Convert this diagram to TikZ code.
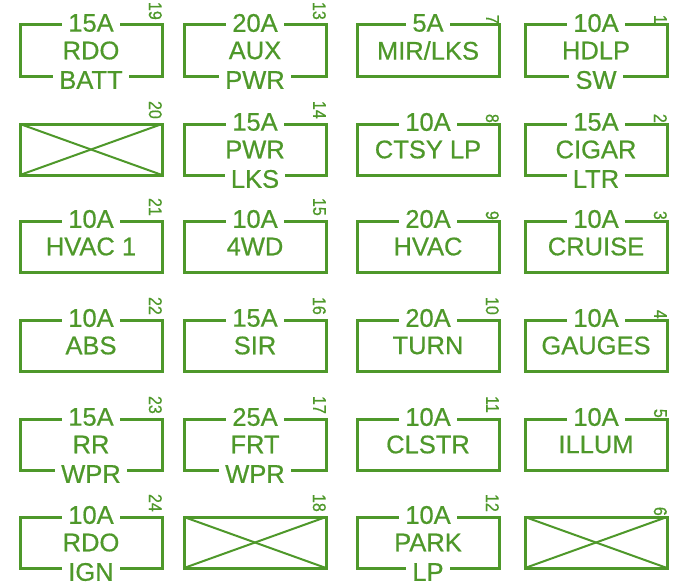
\documentclass[tikz,border=0pt]{standalone}
\usepackage{fontspec}
\setmainfont{Liberation Sans}
\newfontfamily\heavyfont[FakeBold=0.6]{Liberation Sans}
\definecolor{fg}{RGB}{78,152,42}
\tikzset{
  fusebox/.style={draw=fg, line width=3pt, minimum width=142pt, minimum height=51pt, anchor=north west, inner sep=0pt, outer sep=0pt},
  xline/.style={draw=fg, line width=2pt},
  amp/.style={font=\heavyfont\fontsize{25.5}{25.5}\selectfont, text=fg, fill=white, inner xsep=6pt, inner ysep=0pt},
  lbl/.style={font=\heavyfont\fontsize{25.5}{25.5}\selectfont, text=fg, inner sep=0pt},
  num/.style={font=\heavyfont\fontsize{16}{16}\selectfont, text=fg, rotate=-90, anchor=north east, inner sep=0pt},
}
% #1 left, #2 top, #3 number, #4 amp, #5 middle, #6 bottom, #7 number lift
\newcommand\fusecell[7]{%
  \node[fusebox] (f#3) at (#1,#2) {};
  \node[amp] (a#3) at (#1+71,#2-2) {#4};
  \node[lbl] (m#3) at (#1+71,#2+25.5) {#5};
  \if\relax\detokenize{#6}\relax\else
    \node[amp] (b#3) at (#1+71,#2+55) {#6};
  \fi
  \node[num] (n#3) at (#1+142,#2-#7) {\scalebox{1}[1.15]{#3}};
}
\newcommand\blankcell[4]{%
  \node[fusebox] (f#3) at (#1,#2) {};
  \draw[xline] (f#3.north west) -- (f#3.south east);
  \draw[xline] (f#3.south west) -- (f#3.north east);
  \node[num] (n#3) at (#1+142,#2-#4) {\scalebox{1}[1.15]{#3}};
}
\begin{document}
\begin{tikzpicture}[x=1pt,y=-1pt]
\useasboundingbox[fill=white] (0,0) rectangle (676,586);
% row 1
\fusecell{20}{25}{19}{15A}{RDO}{BATT}{5}
\fusecell{184}{25}{13}{20A}{AUX}{PWR}{5}
\fusecell{357}{25}{7}{5A}{MIR/LKS}{}{1}
\fusecell{525}{25}{1}{10A}{HDLP}{SW}{1}
% row 2
\blankcell{20}{124}{20}{5}
\fusecell{184}{124}{14}{15A}{PWR}{LKS}{5}
\fusecell{357}{124}{8}{10A}{CTSY LP}{}{1}
\fusecell{525}{124}{2}{15A}{CIGAR}{LTR}{1}
% row 3
\fusecell{20}{221}{21}{10A}{HVAC 1}{}{5}
\fusecell{184}{221}{15}{10A}{4WD}{}{5}
\fusecell{357}{221}{9}{20A}{HVAC}{}{1}
\fusecell{525}{221}{3}{10A}{CRUISE}{}{1}
% row 4
\fusecell{20}{320}{22}{10A}{ABS}{}{5}
\fusecell{184}{320}{16}{15A}{SIR}{}{5}
\fusecell{357}{320}{10}{20A}{TURN}{}{5}
\fusecell{525}{320}{4}{10A}{GAUGES}{}{1}
% row 5
\fusecell{20}{419}{23}{15A}{RR}{WPR}{5}
\fusecell{184}{419}{17}{25A}{FRT}{WPR}{5}
\fusecell{357}{419}{11}{10A}{CLSTR}{}{6}
\fusecell{525}{419}{5}{10A}{ILLUM}{}{1}
% row 6
\fusecell{20}{517}{24}{10A}{RDO}{IGN}{5}
\blankcell{184}{517}{18}{5}
\fusecell{357}{517}{12}{10A}{PARK}{LP}{5}
\blankcell{525}{517}{6}{1}
\end{tikzpicture}
\end{document}
